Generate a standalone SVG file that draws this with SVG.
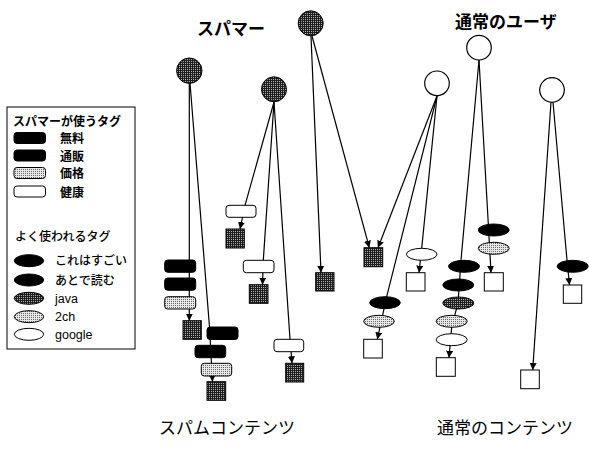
<svg xmlns="http://www.w3.org/2000/svg" width="589" height="450" viewBox="0 0 589 450">
<style>
.t{font-family:"Noto Sans CJK JP","Noto Sans",sans-serif;fill:#000}
.h{font-size:17px;font-weight:bold}
.b{font-size:17px;font-weight:normal}
.l{font-size:12px;font-weight:bold}
.m{font-size:12px;font-weight:500}
.e{font-family:"Liberation Sans",Arial,sans-serif;font-size:12.5px;fill:#000}
.ln{fill:none;stroke:#000;stroke-width:1.2}
.ar{marker-end:url(#ah)}
.sp{fill:url(#dk);stroke:#000;stroke-width:1}
.us{fill:#fff;stroke:#000;stroke-width:1.2}
.bk{fill:#000;stroke:#000;stroke-width:1}
.gr{fill:url(#lg);stroke:#000;stroke-width:1}
.wh{fill:#fff;stroke:#000;stroke-width:1}
</style>
<defs>
<pattern id="dk" width="2" height="2" patternUnits="userSpaceOnUse"><rect width="2" height="2" fill="#1e1e1e"/><rect x="1" y="1" width="1" height="1" fill="#b0b0b0"/></pattern>
<pattern id="lg" width="2" height="2" patternUnits="userSpaceOnUse"><rect width="2" height="2" fill="#e8e8e8"/><rect x="1" y="1" width="1" height="1" fill="#666"/></pattern>
<marker id="ah" viewBox="0 0 10 10" refX="10" refY="5" markerWidth="7" markerHeight="7" markerUnits="userSpaceOnUse" orient="auto"><path d="M0,0 L10,5 L0,10 Z" fill="#000"/></marker>
</defs>
<rect width="589" height="450" fill="#fff"/>

<g id="titles">
<text class="t h" x="197" y="35">スパマー</text>
<text class="t h" x="455" y="28">通常のユーザ</text>
<text class="t b" x="159" y="434">スパムコンテンツ</text>
<text class="t b" x="437" y="434">通常のコンテンツ</text>
</g>

<g id="legend">
<rect x="7" y="107" width="128" height="242" fill="#fff" stroke="#000" stroke-width="1"/>
<text class="t l" x="13" y="126">スパマーが使うタグ</text>
<rect class="bk" x="14" y="132.5" width="31.5" height="11" rx="3"/>
<text class="t l" x="60" y="143">無料</text>
<rect class="bk" x="14" y="150" width="31.5" height="11" rx="3"/>
<text class="t l" x="60" y="160.5">通販</text>
<rect class="gr" x="14" y="167.5" width="31.5" height="11" rx="3"/>
<text class="t l" x="60" y="178">価格</text>
<rect class="wh" x="14" y="186" width="31.5" height="11" rx="3"/>
<text class="t l" x="60" y="196.5">健康</text>
<text class="t m" x="15" y="241">よく使われるタグ</text>
<ellipse class="bk" cx="29" cy="260.7" rx="14.7" ry="6"/>
<text class="t m" x="55" y="265">これはすごい</text>
<ellipse class="bk" cx="29" cy="280" rx="14.7" ry="6"/>
<text class="t m" x="55" y="284.5">あとで読む</text>
<ellipse class="sp" cx="29" cy="298.3" rx="14.7" ry="6"/>
<text class="e" x="55" y="302.5">java</text>
<ellipse class="gr" cx="29" cy="316.7" rx="14.7" ry="6"/>
<text class="e" x="55" y="321">2ch</text>
<ellipse class="wh" cx="29" cy="334.3" rx="14.7" ry="6"/>
<text class="e" x="55" y="338.5">google</text>
</g>

<g id="connectors">
<polyline class="ln ar" points="189.3,83 189.3,320.7"/>
<polyline class="ln ar" points="190,83 209.5,327 212.5,381.7"/>
<polyline class="ln ar" points="274,102 245,205.3 240,229"/>
<polyline class="ln ar" points="274,102 263.3,260.3 262.5,284.7"/>
<polyline class="ln ar" points="274,102 290,339.3 292,363.3"/>
<polyline class="ln ar" points="311,36 321,272.7"/>
<polyline class="ln ar" points="312,36 369.3,247.7"/>
<polyline class="ln ar" points="437,96 378,247.7"/>
<polyline class="ln ar" points="437,96 386.7,296.7 377.3,339.3"/>
<polyline class="ln ar" points="437,96 421.7,248.3 419,272.7"/>
<polyline class="ln ar" points="479,60 461,260.3 458,303 451.7,327 449,357.7"/>
<polyline class="ln ar" points="479,60 488.3,224 491,272.7"/>
<polyline class="ln ar" points="551,102 532.7,370"/>
<polyline class="ln ar" points="553,102 567,260.3 569.5,285"/>
</g>

<g id="spammer1"><circle class="sp" cx="189.3" cy="70.7" r="12.7"/></g>
<g id="spammer2"><circle class="sp" cx="274" cy="89.3" r="12.5"/></g>
<g id="spammer3"><circle class="sp" cx="310.7" cy="23.3" r="12.5"/></g>
<g id="user1"><circle class="us" cx="437" cy="83.3" r="12.3"/></g>
<g id="user2"><circle class="us" cx="479" cy="47.7" r="12.3"/></g>
<g id="user3"><circle class="us" cx="552" cy="90" r="12.3"/></g>

<g id="spam-content1">
<rect class="bk" x="164.7" y="260" width="31" height="12.3" rx="3"/>
<rect class="bk" x="164.7" y="278" width="31" height="12.3" rx="3"/>
<rect class="gr" x="164.7" y="296.7" width="31" height="12.3" rx="3"/>
<rect class="sp" x="183" y="320.7" width="18.3" height="18.6"/>
</g>
<g id="spam-content2">
<rect class="bk" x="207" y="327" width="31" height="12.5" rx="3"/>
<rect class="bk" x="195" y="345.3" width="30.7" height="12.4" rx="3"/>
<rect class="gr" x="201.3" y="363.3" width="30.4" height="12.7" rx="3"/>
<rect class="sp" x="207" y="381.7" width="18.7" height="18.6"/>
</g>
<g id="spam-content3">
<rect class="wh" x="226" y="205.3" width="30" height="12" rx="3"/>
<rect class="sp" x="226" y="229" width="18.3" height="19"/>
</g>
<g id="spam-content4">
<rect class="wh" x="243.3" y="260.3" width="30.7" height="12.4" rx="3"/>
<rect class="sp" x="249.3" y="284.7" width="18.7" height="18.6"/>
</g>
<g id="spam-content5">
<rect class="wh" x="274" y="339.3" width="29.7" height="12.4" rx="3"/>
<rect class="sp" x="285.7" y="363.3" width="18" height="18.7"/>
</g>
<g id="spam-content6"><rect class="sp" x="315.7" y="272.7" width="18.3" height="18.3"/></g>
<g id="spam-content7"><rect class="sp" x="364" y="247.7" width="18.7" height="19"/></g>

<g id="content1">
<ellipse class="wh" cx="421.7" cy="254.3" rx="15.3" ry="6"/>
<rect class="wh" x="406.3" y="272.7" width="18.7" height="18.3"/>
</g>
<g id="content2">
<ellipse class="bk" cx="385" cy="302.7" rx="15.3" ry="6"/>
<ellipse class="gr" cx="379" cy="321.3" rx="15.3" ry="6"/>
<rect class="wh" x="363.7" y="339.3" width="18.6" height="18.7"/>
</g>
<g id="content3">
<ellipse class="bk" cx="464" cy="266.3" rx="15.5" ry="6"/>
<ellipse class="bk" cx="458.3" cy="285" rx="15.5" ry="6"/>
<ellipse class="sp" cx="458.3" cy="303" rx="15.5" ry="6"/>
<ellipse class="gr" cx="451.7" cy="321.3" rx="15.5" ry="6"/>
<ellipse class="wh" cx="451.7" cy="339.7" rx="15.5" ry="6"/>
<rect class="wh" x="436.3" y="357.7" width="19" height="18.6"/>
</g>
<g id="content4">
<ellipse class="bk" cx="493.7" cy="230" rx="15.5" ry="6"/>
<ellipse class="gr" cx="493.7" cy="248.3" rx="15.5" ry="6"/>
<rect class="wh" x="484.3" y="272.7" width="19" height="18.3"/>
</g>
<g id="content5"><rect class="wh" x="520.7" y="370" width="18.6" height="18.7"/></g>
<g id="content6">
<ellipse class="bk" cx="572.7" cy="266.3" rx="15.5" ry="6"/>
<rect class="wh" x="563.3" y="285" width="18.4" height="18.3"/>
</g>
</svg>
